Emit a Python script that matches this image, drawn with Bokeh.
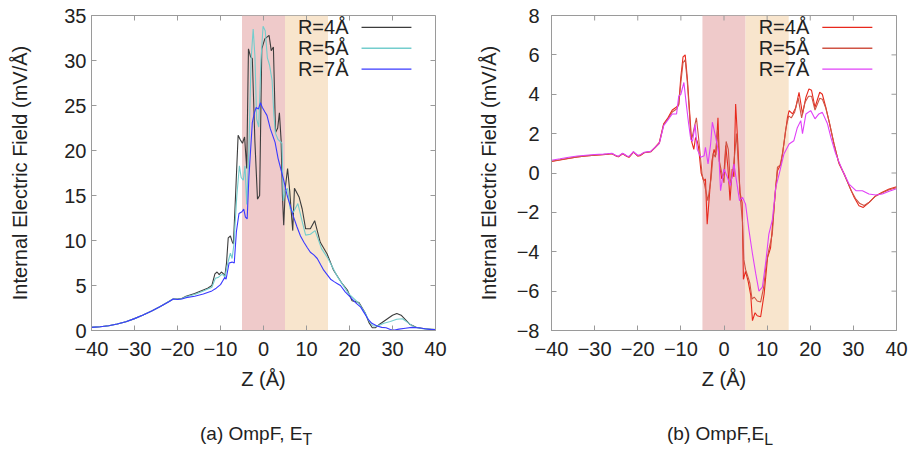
from bokeh.plotting import figure
from bokeh.layouts import row, column
from bokeh.models import BoxAnnotation, Label, FixedTicker, Range1d, Div
from bokeh.embed import file_html
from bokeh.resources import INLINE

# ---------------- data: panel (a) OmpF, E_T ----------------
zT4 = [-40, -38, -36, -34, -32, -30, -28, -26, -24, -22, -21, -20, -19, -18, -16, -14, -13, -12,
       -11.3, -10.8, -10.3, -9.8, -9.3, -9.0, -8.6, -8.2, -7.7, -7.3, -7.0, -6.5, -5.9, -5.4, -4.9,
       -4.4, -3.9, -3.5, -3.0, -2.6, -2.0, -1.4, -0.9, -0.4, 0.3, 0.8, 1.3, 1.8, 2.3, 2.8, 3.3, 3.7,
       4.1, 4.4, 4.7, 5.1, 5.6, 6.1, 6.4, 6.8, 7.2, 8.3, 9.0, 9.8, 10.9, 11.9, 13.2, 14.8, 16.3,
       18.3, 19.5, 20.6, 22.2, 23.7, 24.5, 25.3, 26.0, 27.0, 28.5, 30.0, 31.0, 32.0, 33.0, 34.0,
       35.5, 37.5, 40]
eT4 = [0.35, 0.42, 0.52, 0.72, 0.97, 1.32, 1.72, 2.17, 2.67, 3.22, 3.5, 3.5, 3.55, 3.8, 4.1, 4.5,
       4.7, 5.0, 6.3, 6.5, 6.2, 6.5, 6.3, 6.0, 7.5, 10.3, 10.5, 9.9, 9.6, 15.0, 21.7, 21.2, 20.8,
       21.5, 18.0, 31.3, 30.4, 30.2, 21.0, 14.6, 15.0, 31.3, 32.4, 32.6, 32.8, 31.1, 31.5, 22.0,
       22.5, 24.2, 21.1, 15.0, 11.7, 16.0, 18.0, 15.5, 13.5, 11.1, 15.8, 14.8, 13.5, 11.3, 11.3,
       12.2, 9.8, 8.5, 6.7, 5.2, 4.5, 3.3, 3.1, 1.9, 0.9, 0.3, 0.3, 0.7, 1.2, 1.7, 1.9, 1.7, 1.2,
       0.7, 0.35, 0.2, 0.1]

zT5 = [-40, -38, -36, -34, -32, -30, -28, -26, -24, -22, -21, -20, -19, -18, -16, -14, -12,
       -11.2, -10.5, -9.8, -9.3, -9.0, -8.3, -7.7, -7.3, -6.9, -6.2, -5.6, -5.2, -4.7, -4.3, -3.9,
       -3.4, -2.9, -2.4, -2.0, -1.6, -1.1, -0.6, -0.1, 0.4, 0.9, 1.4, 2.0, 2.4, 2.8, 3.4, 3.9, 4.3,
       4.6, 5.0, 5.6, 6.2, 6.9, 8.0, 8.9, 9.8, 10.9, 12.0, 13.5, 15.0, 17.3, 19.8, 22.2, 23.7,
       24.6, 25.5, 26.5, 28.0, 29.5, 31.0, 32.3, 33.5, 35.0, 37.0, 40]
eT5 = [0.35, 0.42, 0.52, 0.72, 0.97, 1.32, 1.72, 2.17, 2.67, 3.22, 3.5, 3.48, 3.52, 3.75, 4.0,
       4.4, 4.8, 5.8, 5.9, 6.2, 6.2, 5.9, 7.5, 8.6, 8.0, 9.5, 15.0, 18.3, 17.0, 16.7, 18.3, 14.0,
       20.0, 30.0, 33.5, 30.5, 23.5, 22.6, 30.0, 33.8, 33.3, 30.3, 29.5, 27.8, 24.0, 21.9, 21.2,
       21.0, 20.8, 14.4, 15.5, 15.8, 13.5, 13.1, 14.1, 12.3, 10.6, 10.7, 11.1, 9.1, 8.0, 5.9, 4.1,
       3.0, 1.9, 1.0, 0.5, 0.5, 0.8, 1.0, 1.25, 1.3, 0.9, 0.4, 0.2, 0.1]

zT7 = [-40, -38, -36, -34, -32, -30, -28, -26, -24, -22, -21, -20, -19, -18, -16, -14, -12, -11,
       -10, -9.5, -9.0, -8.7, -8.0, -7.3, -6.8, -6.3, -5.7, -5.0, -4.6, -4.2, -3.8, -3.4, -2.6,
       -2.1, -1.7, -1.2, -0.7, -0.3, 0.3, 0.8, 1.6, 2.7, 3.4, 4.0, 4.7, 5.5, 6.3, 7.0, 7.8, 8.6,
       9.4, 10.2, 10.9, 11.7, 12.5, 13.3, 14.0, 14.8, 15.6, 16.5, 17.2, 17.9, 19.0, 20.2, 21.4,
       22.6, 23.5, 24.4, 25.2, 26.4, 27.5, 28.5, 29.5, 30.5, 31.5, 33.0, 34.5, 36.0, 37.5, 39.0, 40]
eT7 = [0.35, 0.42, 0.52, 0.72, 0.97, 1.32, 1.72, 2.17, 2.67, 3.2, 3.5, 3.45, 3.5, 3.65, 3.8,
       4.05, 4.4, 4.7, 5.1, 5.5, 5.9, 5.7, 7.5, 7.6, 7.5, 11.0, 13.0, 13.2, 13.5, 12.6, 12.4,
       17.0, 23.1, 24.2, 24.8, 24.6, 25.3, 24.8, 24.3, 23.9, 22.4, 20.9, 19.1, 18.0, 16.7, 15.0,
       13.7, 12.6, 11.5, 10.5, 9.8, 9.2, 8.7, 8.4, 8.0, 7.3, 6.7, 6.2, 5.7, 5.4, 5.2, 5.0, 4.3,
       3.7, 3.1, 2.6, 1.9, 1.2, 0.8, 0.5, 0.35, 0.3, 0.1, 0.05, 0.15, 0.25, 0.35, 0.3, 0.2, 0.1, 0.1]

# ---------------- data: panel (b) OmpF, E_L ----------------
zL4 = [-40, -38, -36, -34, -32, -30, -28, -27, -26, -25, -24.5, -23.5, -22.5, -22, -21, -20,
       -19.5, -18.5, -17, -16, -15, -14, -13, -12, -11, -10.5, -10, -9.5, -9.0, -8.5, -8.0, -7.5,
       -7.0, -6.6, -6.2, -5.9, -5.3, -4.7, -4.3, -3.9, -3.3, -2.8, -2.3, -1.9, -1.4, -1.0, -0.5,
       0.0, 0.4, 0.9, 1.4, 1.9, 2.3, 2.7, 3.2, 3.7, 4.2, 4.5, 5.0, 5.6, 6.2, 6.6, 7.2, 7.7, 8.5,
       9.3, 10.1, 10.8, 11.2, 12.0, 12.4, 13.2, 13.9, 14.7, 15.1, 15.9, 16.6, 17.4, 18.2, 19.0,
       19.7, 20.3, 21.1, 22.2, 22.8, 23.6, 24.4, 25.5, 26.7, 27.9, 29.0, 30.2, 31.3, 32.3, 33.6,
       35.2, 36.7, 38.3, 40]
eL4 = [0.58, 0.66, 0.74, 0.81, 0.86, 0.9, 0.93, 0.95, 0.98, 0.86, 0.82, 0.98, 0.84, 0.8, 1.06,
       0.86, 0.88, 1.03, 1.08, 1.3, 1.55, 2.5, 2.8, 3.2, 3.35, 3.5, 4.9, 5.9, 6.0, 4.8, 3.2, 1.6,
       1.2, 1.8, 1.6, 1.3, 0.0, -0.4, -0.3, -2.6, -0.9, 0.6, 1.2, 0.9, 2.8, 0.3, -0.3, 0.0, 1.4,
       0.3, -1.4, 0.2, -0.2, 3.5, 1.5, -1.0, -1.5, -5.4, -5.0, -5.5, -6.2, -7.5, -7.1, -7.25,
       -7.3, -6.15, -4.3, -3.8, -2.8, -0.73, 0.12, 0.46, 1.5, 2.8, 3.17, 3.0, 3.3, 4.1, 3.0, 3.85,
       4.27, 4.2, 3.34, 4.1, 4.0, 3.34, 2.58, 1.47, 0.46, -0.05, -0.64, -1.24, -1.66, -1.75, -1.5,
       -1.15, -0.98, -0.81, -0.7]

zL5 = [-40, -38, -36, -34, -32, -30, -28, -27, -26, -25, -24.5, -23.5, -22.5, -22, -21, -20,
       -19.5, -18.5, -17, -16, -15, -14, -13, -12, -11, -10.5, -10, -9.5, -9.0, -8.5, -8.0, -7.7,
       -7.4, -7.0, -6.4, -5.9, -5.45, -5.07, -4.5, -3.75, -3.0, -2.5, -2.0, -1.5, -1.1, -0.6, 0.0,
       0.5, 1.0, 1.5, 2.0, 2.5, 2.9, 3.3, 3.8, 4.3, 4.6, 5.0, 5.6, 6.0, 6.5, 7.0, 7.7, 8.5, 9.2,
       9.8, 10.4, 11.2, 11.8, 12.4, 13.0, 13.6, 14.3, 15.0, 15.6, 16.4, 17.2, 18.0, 18.8, 19.6,
       20.3, 21.1, 22.2, 22.8, 23.6, 24.4, 25.5, 26.5, 27.5, 28.5, 29.5, 30.5, 31.5, 32.5, 33.6,
       35.0, 36.7, 38.3, 40]
eL5 = [0.6, 0.67, 0.75, 0.82, 0.87, 0.91, 0.94, 0.96, 0.99, 0.87, 0.83, 0.99, 0.85, 0.81, 1.07,
       0.87, 0.89, 1.04, 1.08, 1.28, 1.5, 2.45, 2.75, 3.1, 3.25, 3.45, 4.6, 5.6, 5.75, 4.6, 3.0,
       1.8, 1.8, 2.2, 2.8, 1.8, 0.8, -0.1, -0.6, -1.4, -0.3, 1.0, 0.8, 2.2, 0.6, 0.1, -0.5, 1.6,
       1.2, -0.6, 0.0, 1.0, 2.0, 0.5, -1.3, -2.5, -4.4, -4.9, -5.3, -5.6, -6.4, -6.3, -6.5, -6.55,
       -5.8, -4.6, -3.9, -3.1, -1.2, 0.3, 0.4, 1.0, 2.2, 2.9, 2.8, 3.1, 3.8, 2.8, 3.6, 3.9, 3.9,
       3.2, 3.8, 3.75, 3.3, 2.6, 1.5, 0.6, 0.1, -0.4, -0.9, -1.3, -1.55, -1.65, -1.5, -1.2, -1.0,
       -0.85, -0.75]

zL7 = [-40, -38, -36, -34, -32, -30, -28, -27, -26, -25, -24.5, -23.5, -22.5, -22, -21, -20,
       -19.5, -18.5, -17, -16, -15, -14, -13, -12, -11, -10.5, -10, -9.3, -8.8, -8.2, -7.7, -7.3,
       -6.7, -6.2, -5.4, -4.6, -4.3, -3.7, -3.1, -2.7, -1.9, -1.2, -0.8, 0.0, 0.8, 1.5, 2.3, 2.9,
       3.6, 4.3, 5.0, 5.8, 6.6, 7.35, 8.1, 8.9, 9.7, 10.4, 11.2, 12.0, 12.8, 13.9, 15.1, 16.2,
       17.0, 17.8, 18.2, 19.0, 20.1, 21.1, 22.0, 22.8, 24.0, 24.8, 25.9, 27.5, 29.0, 30.6, 32.1,
       33.6, 35.2, 36.7, 38.3, 40]
eL7 = [0.65, 0.72, 0.8, 0.86, 0.9, 0.94, 0.96, 0.98, 1.0, 0.88, 0.85, 1.0, 0.86, 0.84, 1.08,
       0.9, 0.92, 1.05, 1.1, 1.3, 1.5, 2.4, 2.7, 3.0, 3.0, 3.9, 4.0, 4.6, 3.6, 2.5, 1.7, 1.6,
       2.46, 1.2, 0.8, 0.88, 1.3, 0.46, 1.47, 2.58, 1.8, 0.97, -0.9, 0.2, -0.22, -0.64, 0.46,
       -0.4, -1.4, -1.24, -1.58, -2.93, -4.1, -5.1, -6.0, -5.8, -4.5, -3.1, -2.4, -0.73, -0.05,
       0.97, 1.47, 1.64, 2.3, 2.66, 2.0, 3.0, 3.17, 2.75, 3.0, 3.08, 2.5, 1.8, 0.97, 0.12, -0.56,
       -0.9, -0.9, -1.07, -1.12, -1.07, -0.93, -0.8]

series_labels = ["R=4Å", "R=5Å", "R=7Å"]
region_bounds = [(-5, 5), (5, 15)]
x_ticks = [-40, -30, -20, -10, 0, 10, 20, 30, 40]
yT_ticks = [0, 5, 10, 15, 20, 25, 30, 35]
yL_ticks = [-8, -6, -4, -2, 0, 2, 4, 6, 8]
x_label = "Z (Å)"
y_label = "Internal Electric Field (mV/Å)"
captions = ["(a) OmpF, E<sub>T</sub>", "(b) OmpF,E<sub>L</sub>"]

# ---------------- style ----------------
FONT = "Liberation Sans"
FRAME = "#9a9a9a"
TXT = "#222222"
REGION_COLORS = ["#efcaca", "#f8e5cd"]
COLORS_T = ["#3c3c3c", "#74cdcd", "#3a3aff"]
COLORS_L = ["#e8281c", "#cf5444", "#e040f8"]
FIG_H = 405


def minus(v):
    return ("\u2212" + str(abs(v))) if v < 0 else str(v)


def make_panel(width, border_left, border_right, yticks, ylo, yhi, series, colors,
               tick_standoff, label_standoff):
    p = figure(width=width, height=FIG_H, output_backend="svg", toolbar_location=None,
               x_range=Range1d(-40, 40), y_range=Range1d(ylo, yhi),
               min_border_left=border_left, min_border_right=border_right,
               min_border_top=15, min_border_bottom=FIG_H - 330)
    p.background_fill_color = "white"
    p.border_fill_color = "white"
    p.outline_line_color = FRAME
    p.grid.visible = False

    for (a, b), c in zip(region_bounds, REGION_COLORS):
        p.add_layout(BoxAnnotation(left=a, right=b, fill_color=c, fill_alpha=1.0,
                                   line_color=None, level="underlay"))

    for (zz, ee), c in zip(series, colors):
        p.line(zz, ee, line_color=c, line_width=1.1)

    p.xaxis.ticker = FixedTicker(ticks=x_ticks)
    p.yaxis.ticker = FixedTicker(ticks=yticks)
    p.xaxis.major_label_overrides = {t: minus(t) for t in x_ticks}
    p.yaxis.major_label_overrides = {t: minus(t) for t in yticks}
    for ax in (p.xaxis[0], p.yaxis[0]):
        ax.major_tick_in = 5
        ax.major_tick_out = 0
        ax.minor_tick_line_color = None
        ax.major_tick_line_color = FRAME
        ax.axis_line_color = FRAME
        ax.major_label_text_font = FONT
        ax.major_label_text_font_size = "20px"
        ax.major_label_text_color = TXT
        ax.axis_label_text_font = FONT
        ax.axis_label_text_font_size = "20px"
        ax.axis_label_text_font_style = "normal"
        ax.axis_label_text_color = TXT
    p.xaxis.axis_label = x_label
    p.yaxis.axis_label = y_label
    p.xaxis.major_label_standoff = 11
    p.yaxis.major_label_standoff = tick_standoff
    p.xaxis.axis_label_standoff = 9
    p.yaxis.axis_label_standoff = label_standoff

    dx, dy = 80.0, float(yhi - ylo)
    # mirrored inward ticks on the top and right edges of the frame
    tx = 5.0 * dx / 344.0
    ty = 5.0 * dy / 315.0
    p.segment(x0=x_ticks, x1=x_ticks, y0=[yhi] * len(x_ticks), y1=[yhi - ty] * len(x_ticks),
              line_color=FRAME, line_width=1)
    p.segment(x0=[40] * len(yticks), x1=[40 - tx] * len(yticks), y0=yticks, y1=yticks,
              line_color=FRAME, line_width=1)

    # legend: text on the left, line sample on the right
    for i, (lab, c) in enumerate(zip(series_labels, colors)):
        yy = yhi - dy * (0.038 + 0.066 * i)
        p.add_layout(Label(x=-40 + dx * 0.747, y=yy, text=lab, text_align="right",
                           text_baseline="middle", text_font=FONT, text_font_size="20px",
                           text_color=TXT))
        p.line(x=[-40 + dx * 0.785, -40 + dx * 0.93], y=[yy, yy], line_color=c,
               line_width=1.3)
    return p


pA = make_panel(455, 91, 20, yT_ticks, 0, 35,
                [(zT4, eT4), (zT5, eT5), (zT7, eT7)], COLORS_T, 5, 30)
pB = make_panel(454, 96, 13, yL_ticks, -8, 8,
                [(zL4, eL4), (zL5, eL5), (zL7, eL7)], COLORS_L, 12, 14)

cap_style = {"font-family": FONT, "font-size": "19px", "color": TXT, "margin": "0",
             "padding-top": "18px", "line-height": "22px", "white-space": "nowrap"}
dA = Div(text=captions[0], width=455, height=450 - FIG_H,
         styles=dict(cap_style, **{"padding-left": "200px"}))
dB = Div(text=captions[1], width=454, height=450 - FIG_H,
         styles=dict(cap_style, **{"padding-left": "212px"}))

layout = column(row(pA, pB), row(dA, dB))
open("out.html", "w").write(file_html(layout, INLINE))
